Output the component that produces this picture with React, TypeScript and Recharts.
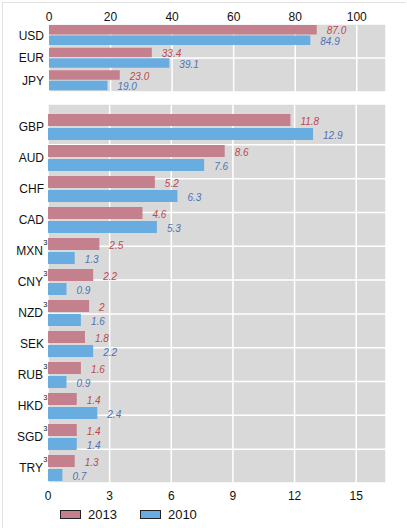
import React from 'react';
import {
  BarChart,
  Bar,
  XAxis,
  YAxis,
  CartesianGrid,
  LabelList,
  Legend,
} from 'recharts';

// currency codes, split in the two panels
const majorCurrencies = ['USD', 'EUR', 'JPY'];
const minorCurrencies = [
  'GBP', 'AUD', 'CHF', 'CAD', 'MXN', 'CNY',
  'NZD', 'SEK', 'RUB', 'HKD', 'SGD', 'TRY',
];
// codes that carry the footnote mark
const footnoted = ['MXN', 'CNY', 'NZD', 'RUB', 'HKD', 'SGD', 'TRY'];

const seriesNames = ['2013', '2010'];
const major2013 = [87.0, 33.4, 23.0];
const major2010 = [84.9, 39.1, 19.0];
const minor2013 = [11.8, 8.6, 5.2, 4.6, 2.5, 2.2, 2, 1.8, 1.6, 1.4, 1.4, 1.3];
const minor2010 = [12.9, 7.6, 6.3, 5.3, 1.3, 0.9, 1.6, 2.2, 0.9, 2.4, 1.4, 0.7];

const majorTicks = [0, 20, 40, 60, 80, 100];
const minorTicks = [0, 3, 6, 9, 12, 15];

const PINK = '#c4808d';
const BLUE = '#69ace0';
const PINK_TEXT = '#c0474f';
const BLUE_TEXT = '#4e72b5';
const PANEL = '#d9d9d9';
const FONT = '"Liberation Sans", Arial, sans-serif';

const majorData = majorCurrencies.map((name, i) => ({
  name,
  y2013: major2013[i],
  y2010: major2010[i],
}));
const minorData = minorCurrencies.map((name, i) => ({
  name,
  y2013: minor2013[i],
  y2010: minor2010[i],
}));

const CurrencyTick = (props: any) => {
  const { y, payload } = props;
  const hasNote = footnoted.includes(payload.value);
  return (
    <g>
      <text
        x={hasNote ? 43 : 44}
        y={y}
        dy="0.36em"
        textAnchor="end"
        fontSize={12}
        fontFamily={FONT}
        fill="#111"
      >
        {payload.value}
      </text>
      {hasNote && (
        <text x={43.3} y={y - 6} fontSize={7.5} fontFamily={FONT} fill="#111">
          3
        </text>
      )}
    </g>
  );
};

const makeValueLabel = (color: string, digits: boolean) => (props: any) => {
  const vb = props.viewBox || props;
  const { x, y, width, height } = vb;
  const v = Number(props.value);
  return (
    <text
      x={x + width + 10}
      y={y + height / 2 + 2}
      dominantBaseline="middle"
      fontSize={10}
      fontStyle="italic"
      fontFamily={FONT}
      fill={color}
    >
      {digits ? v.toFixed(1) : String(v)}
    </text>
  );
};

const LegendContent = (props: any) => {
  const items = [...(props.payload || [])].sort(
    (a: any, b: any) => seriesNames.indexOf(a.value) - seriesNames.indexOf(b.value)
  );
  return (
    <div style={{ display: 'flex', fontFamily: FONT, fontSize: 13, color: '#111' }}>
      {items.map((item: any, i: number) => (
        <div
          key={`leg-${i}`}
          style={{ display: 'flex', alignItems: 'center', marginRight: 23 }}
        >
          <span
            style={{
              display: 'inline-block',
              width: 19,
              height: 7,
              background: item.color,
              border: '1px solid #222',
              marginRight: 7,
            }}
          />
          <span>{item.value}</span>
        </div>
      ))}
    </div>
  );
};

const tickStyle = { fontSize: 12, fill: '#111', fontFamily: FONT };

export default function App() {
  return (
    <div
      style={{
        position: 'absolute',
        left: 0,
        top: 0,
        width: 407,
        height: 528,
        background: '#fff',
      }}
    >
      <div
        style={{
          position: 'absolute',
          left: 2,
          top: 2,
          width: 403,
          height: 526,
          borderLeft: '1px solid #e2e2e2',
          borderTop: '1px solid #e2e2e2',
        }}
      />
      <div style={{ position: 'absolute', left: 0, top: 0 }}>
        <BarChart
          width={407}
          height={96}
          data={majorData}
          layout="vertical"
          barSize={9.5}
          barGap={1}
          margin={{ top: 4, right: 21, bottom: 4, left: 0 }}
        >
          <CartesianGrid
            yAxisId="grid"
            fill={PANEL}
            stroke="#fff"
            strokeWidth={1.5}
          />
          <XAxis
            type="number"
            orientation="top"
            domain={[0, 109.5]}
            ticks={majorTicks}
            height={20}
            axisLine={false}
            tickLine={false}
            tickSize={0}
            tickMargin={3}
            tick={tickStyle}
          />
          <YAxis
            type="category"
            dataKey="name"
            width={49}
            interval={0}
            axisLine={false}
            tickLine={false}
            tick={<CurrencyTick />}
          />
          <YAxis
            yAxisId="grid"
            type="number"
            domain={[0, majorCurrencies.length]}
            ticks={[1, 2]}
            hide
          />
          <Bar dataKey="y2013" name={seriesNames[0]} fill={PINK} isAnimationActive={false}>
            <LabelList dataKey="y2013" content={makeValueLabel(PINK_TEXT, true)} />
          </Bar>
          <Bar dataKey="y2010" name={seriesNames[1]} fill={BLUE} isAnimationActive={false}>
            <LabelList dataKey="y2010" content={makeValueLabel(BLUE_TEXT, true)} />
          </Bar>
        </BarChart>
      </div>
      <div style={{ position: 'absolute', left: 0, top: 96 }}>
        <BarChart
          width={407}
          height={432}
          data={minorData}
          layout="vertical"
          barSize={12}
          barGap={2}
          margin={{ top: 8, right: 21, bottom: 25, left: 0 }}
        >
          <CartesianGrid
            yAxisId="grid"
            fill={PANEL}
            stroke="#fff"
            strokeWidth={1.5}
          />
          <XAxis
            type="number"
            domain={[0, 16.45]}
            ticks={minorTicks}
            height={20}
            axisLine={false}
            tickLine={false}
            tickSize={0}
            tickMargin={8}
            tick={tickStyle}
          />
          <YAxis
            type="category"
            dataKey="name"
            width={48}
            interval={0}
            padding={{ top: 7, bottom: 0 }}
            axisLine={false}
            tickLine={false}
            tick={<CurrencyTick />}
          />
          <YAxis
            yAxisId="grid"
            type="number"
            domain={[0, minorCurrencies.length]}
            ticks={[1, 2, 3, 4, 5, 6, 7, 8, 9, 10, 11]}
            padding={{ top: 7, bottom: 0 }}
            hide
          />
          <Legend
            layout="horizontal"
            verticalAlign="middle"
            align="center"
            wrapperStyle={{ top: 411, left: 60, width: 200 }}
            content={<LegendContent />}
          />
          <Bar dataKey="y2013" name={seriesNames[0]} fill={PINK} isAnimationActive={false}>
            <LabelList dataKey="y2013" content={makeValueLabel(PINK_TEXT, false)} />
          </Bar>
          <Bar dataKey="y2010" name={seriesNames[1]} fill={BLUE} isAnimationActive={false}>
            <LabelList dataKey="y2010" content={makeValueLabel(BLUE_TEXT, false)} />
          </Bar>
        </BarChart>
      </div>
    </div>
  );
}
